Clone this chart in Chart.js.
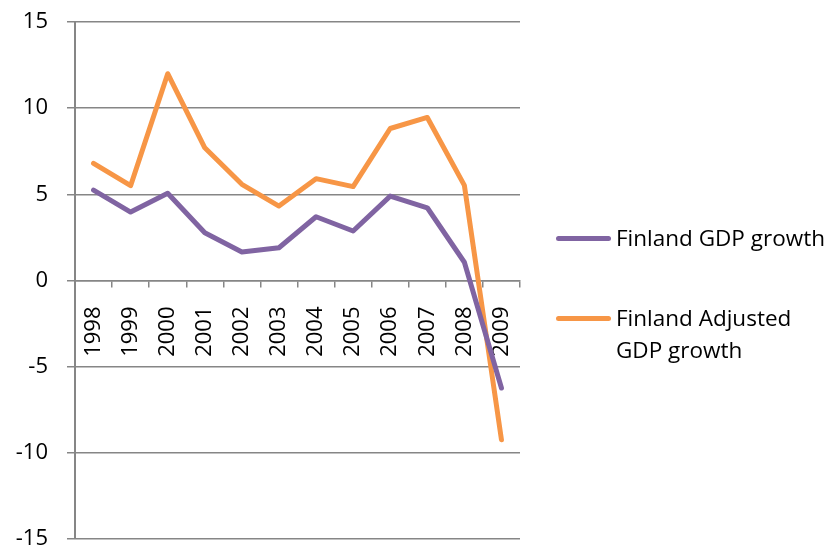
<!DOCTYPE html>
<html>
<head>
<meta charset="utf-8">
<script src="https://cdn.jsdelivr.net/npm/chart.js@4"></script>
<style>
  body { margin: 0; background: #fff; }
  .wrap { position: relative; width: 833px; height: 545px; overflow: hidden; }
  canvas { position: absolute; left: 0; top: 0; }
  .legend { position: absolute; left: 556px; top: 0; font-family: "Open Sans", sans-serif; font-size: 22.5px; color: #000; }
  .legend .item { position: absolute; left: 0; white-space: nowrap; }
  .legend .swatch { position: absolute; left: 0; width: 55px; height: 5px; border-radius: 3px; }
  .legend .text { position: absolute; left: 60px; line-height: 32px; }
</style>
</head>
<body>
<div class="wrap">
  <canvas id="chart" width="833" height="545"></canvas>
  <div class="legend" id="legend"></div>
</div>
<script>
const years = ['1998', '1999', '2000', '2001', '2002', '2003', '2004', '2005', '2006', '2007', '2008', '2009'];
const gdpGrowth = [5.25, 3.97, 5.06, 2.77, 1.65, 1.9, 3.7, 2.87, 4.9, 4.22, 1.06, -6.24];
const adjustedGdpGrowth = [6.8, 5.5, 12.0, 7.7, 5.58, 4.32, 5.91, 5.45, 8.82, 9.46, 5.52, -9.24];
const seriesNames = ['Finland GDP growth', 'Finland Adjusted\nGDP growth'];
const seriesColors = ['#8064A2', '#F79646'];

const gridColor = '#868686';
const tickFont = { family: 'Open Sans', size: 22 };

const ctx = document.getElementById('chart').getContext('2d');
new Chart(ctx, {
  type: 'line',
  data: {
    labels: years,
    datasets: [
      {
        label: seriesNames[0],
        data: gdpGrowth,
        borderColor: seriesColors[0],
        backgroundColor: seriesColors[0],
        borderWidth: 5,
        pointRadius: 0,
        borderCapStyle: 'round',
        borderJoinStyle: 'round',
        tension: 0
      },
      {
        label: seriesNames[1],
        data: adjustedGdpGrowth,
        borderColor: seriesColors[1],
        backgroundColor: seriesColors[1],
        borderWidth: 5,
        pointRadius: 0,
        borderCapStyle: 'round',
        borderJoinStyle: 'round',
        tension: 0
      }
    ]
  },
  options: {
    responsive: false,
    animation: false,
    layout: { padding: { top: 22, right: 313, bottom: 6, left: 0 } },
    plugins: {
      legend: { display: false },
      tooltip: { enabled: false }
    },
    scales: {
      x: {
        position: { y: 0 },
        offset: true,
        grid: { offset: true, drawOnChartArea: false, drawTicks: true, tickLength: 6, color: gridColor, lineWidth: 1.5 },
        border: { display: true, color: gridColor, width: 1.5 },
        ticks: { minRotation: 90, maxRotation: 90, autoSkip: false, padding: 20, color: '#000', font: tickFont },
        afterFit(scale) {
          scale.paddingLeft = 0;
          scale.paddingRight = 0;
        }
      },
      y: {
        min: -15,
        max: 15,
        ticks: { stepSize: 5, padding: 19, color: '#000', font: tickFont },
        grid: { color: gridColor, lineWidth: 1.5, tickLength: 8 },
        border: { display: true, color: gridColor, width: 2 },
        afterFit(scale) {
          scale.width = 75;
          scale.paddingTop = 0;
          scale.paddingBottom = 0;
        }
      }
    }
  }
});

// legend drawn as html so the second label can wrap
const legend = document.getElementById('legend');
const legendTops = [238, 318];
seriesNames.forEach((name, i) => {
  const item = document.createElement('div');
  item.className = 'item';
  item.style.top = legendTops[i] + 'px';
  const sw = document.createElement('span');
  sw.className = 'swatch';
  sw.style.background = seriesColors[i];
  sw.style.top = '-2.5px';
  const txt = document.createElement('span');
  txt.className = 'text';
  txt.style.top = '-16px';
  txt.innerHTML = name.split('\n').join('<br>');
  item.appendChild(sw);
  item.appendChild(txt);
  legend.appendChild(item);
});
</script>
</body>
</html>
